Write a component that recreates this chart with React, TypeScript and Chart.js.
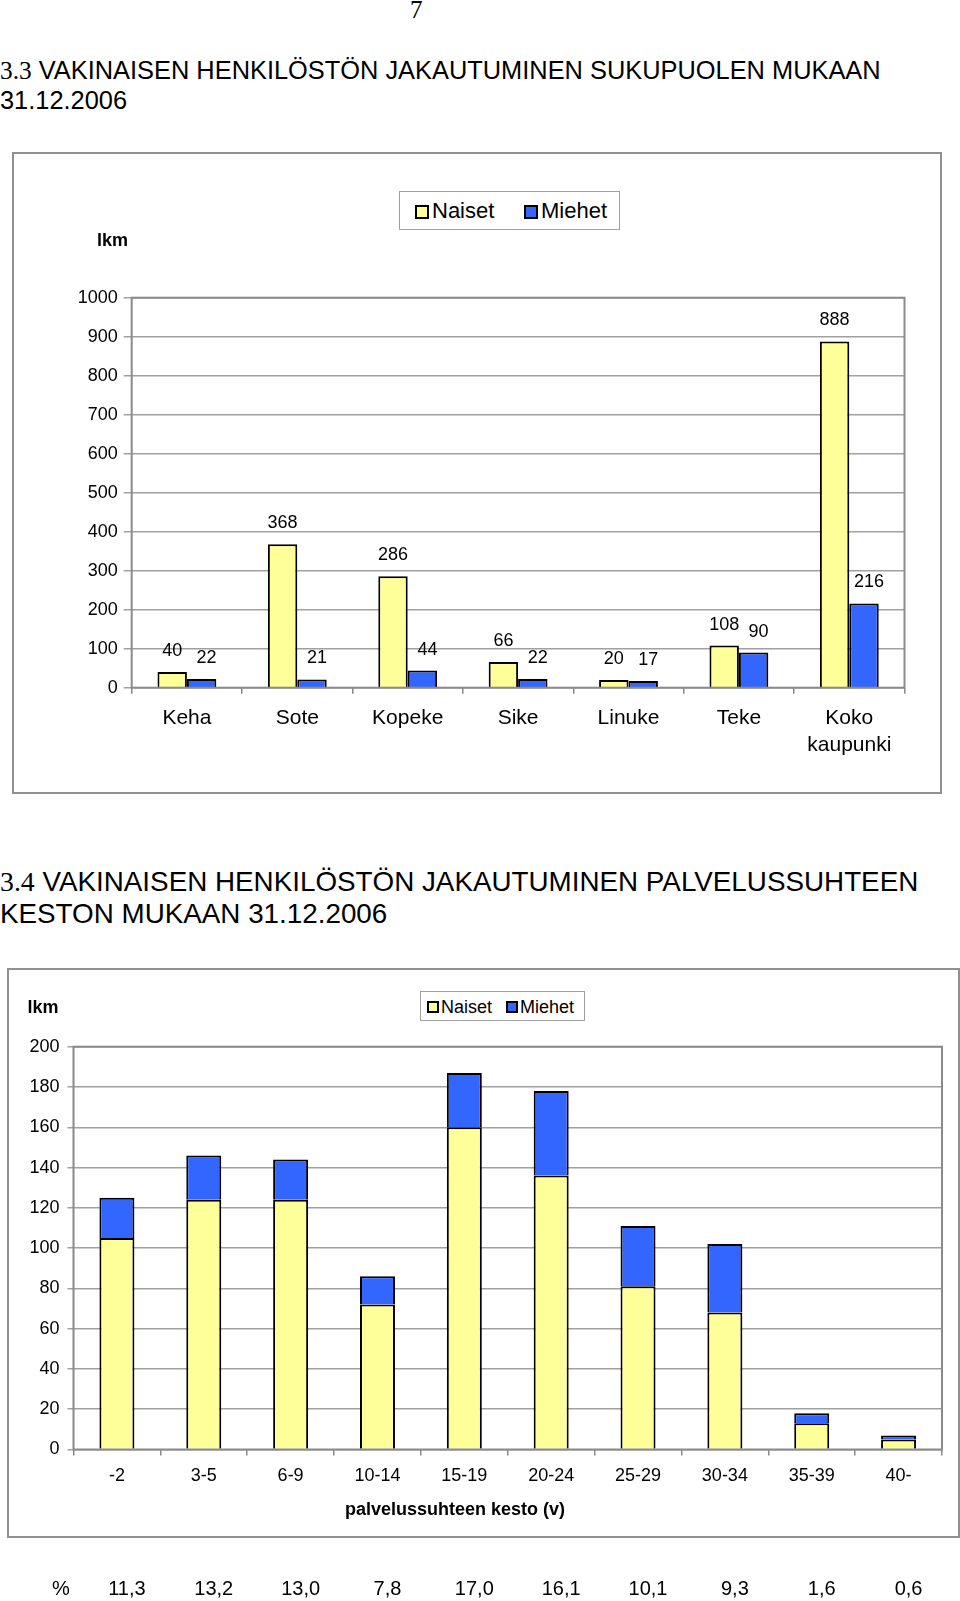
import React, { useEffect, useRef } from 'react';
import { Chart, registerables } from 'chart.js';

Chart.register(...registerables);

const SANS = "'Liberation Sans', Arial, Helvetica, sans-serif";
const SERIF = "'Liberation Serif', 'Times New Roman', serif";
const YELLOW = '#FFFF99';
const BLUE = '#3366FF';

// Chart 3.3 data
const unitLabels = ['Keha', 'Sote', 'Kopeke', 'Sike', 'Linuke', 'Teke', 'Koko kaupunki'];
const unitNaiset = [40, 368, 286, 66, 20, 108, 888];
const unitMiehet = [22, 21, 44, 22, 17, 90, 216];
const unitTicks = [0, 100, 200, 300, 400, 500, 600, 700, 800, 900, 1000];

// Chart 3.4 data
const tenureLabels = ['-2', '3-5', '6-9', '10-14', '15-19', '20-24', '25-29', '30-34', '35-39', '40-'];
const tenureNaiset = [105, 124, 124, 72, 160, 136, 81, 68, 13, 5];
const tenureMiehet = [20, 22, 20, 14, 27, 42, 30, 34, 5, 2];
const tenurePercent = ['11,3', '13,2', '13,0', '7,8', '17,0', '16,1', '10,1', '9,3', '1,6', '0,6'];
const tenureTicks = [0, 20, 40, 60, 80, 100, 120, 140, 160, 180, 200];

const plotBorder = {
  id: 'plotBorder',
  afterDatasetsDraw(chart: any) {
    const { ctx, chartArea } = chart;
    ctx.save();
    ctx.strokeStyle = '#8a8a8a';
    ctx.lineWidth = 2;
    ctx.strokeRect(chartArea.left, chartArea.top, chartArea.right - chartArea.left, chartArea.bottom - chartArea.top);
    ctx.restore();
  },
};

const valueLabels = {
  id: 'valueLabels',
  afterDatasetsDraw(chart: any) {
    const ctx = chart.ctx;
    ctx.save();
    ctx.font = `18px ${SANS}`;
    ctx.fillStyle = '#000';
    ctx.textAlign = 'center';
    ctx.textBaseline = 'middle';
    chart.data.datasets.forEach((ds: any, di: number) => {
      const meta = chart.getDatasetMeta(di);
      meta.data.forEach((el: any, i: number) => {
        const dx = di === 1 ? 5 : 0;
        ctx.fillText(String(ds.data[i]), el.x + dx, el.y - 21);
      });
    });
    ctx.restore();
  },
};

const tenureExtras = {
  id: 'tenureExtras',
  afterDraw(chart: any) {
    const ctx = chart.ctx;
    const xs = chart.scales.x;
    ctx.save();
    ctx.fillStyle = '#000';
    ctx.textBaseline = 'middle';
    ctx.textAlign = 'center';
    ctx.font = `bold 18px ${SANS}`;
    ctx.fillText('palvelussuhteen kesto (v)', 455, 550);
    ctx.font = `20px ${SANS}`;
    ctx.fillText('%', 61, 629);
    tenurePercent.forEach((p, i) => {
      ctx.fillText(p, xs.getPixelForValue(i) + 10, 629);
    });
    ctx.restore();
  },
};

export default function App() {
  const ref1 = useRef<HTMLCanvasElement | null>(null);
  const ref2 = useRef<HTMLCanvasElement | null>(null);

  useEffect(() => {
    Chart.defaults.font.family = SANS;
    Chart.defaults.color = '#000';

    const c1 = new Chart(ref1.current as HTMLCanvasElement, {
      type: 'bar',
      data: {
        labels: unitLabels.map((l) => (l.includes(' ') ? l.split(' ') : l)),
        datasets: [
          { label: 'Naiset', data: unitNaiset, backgroundColor: YELLOW, borderColor: '#000', borderWidth: 2 },
          { label: 'Miehet', data: unitMiehet, backgroundColor: BLUE, borderColor: '#000', borderWidth: 2 },
        ],
      },
      options: {
        animation: false,
        responsive: false,
        devicePixelRatio: 1,
        events: [],
        layout: { padding: { top: 147.7, right: 55.5, left: 0, bottom: 0 } },
        datasets: { bar: { categoryPercentage: 0.533, barPercentage: 1 } },
        plugins: { legend: { display: false }, tooltip: { enabled: false } },
        scales: {
          x: {
            afterFit: (s: any) => { s.height = 112.3; },
            border: { display: false },
            grid: { offset: true, drawOnChartArea: false, drawTicks: true, tickLength: 6, color: '#888', lineWidth: 1.5 },
            ticks: { font: { size: 21, lineHeight: 1.286 }, padding: 11, maxRotation: 0, autoSkip: false, color: '#000' },
          },
          y: {
            min: 0,
            max: 1000,
            afterFit: (s: any) => { s.width = 131.7; },
            afterBuildTicks: (s: any) => { s.ticks = unitTicks.map((v) => ({ value: v })); },
            border: { display: false },
            grid: { color: '#a0a0a0', lineWidth: 1.5, drawTicks: true, tickLength: 8 },
            ticks: { font: { size: 18 }, padding: 6, color: '#000', callback: (v: any) => String(v) },
          },
        },
      },
      plugins: [plotBorder, valueLabels],
    });

    const c2 = new Chart(ref2.current as HTMLCanvasElement, {
      type: 'bar',
      data: {
        labels: tenureLabels,
        datasets: [
          { label: 'Naiset', data: tenureNaiset, backgroundColor: YELLOW, borderColor: '#000', borderWidth: 2 },
          { label: 'Miehet', data: tenureMiehet, backgroundColor: BLUE, borderColor: '#000', borderWidth: 2 },
        ],
      },
      options: {
        animation: false,
        responsive: false,
        devicePixelRatio: 1,
        events: [],
        layout: { padding: { top: 86.7, right: 18, left: 0, bottom: 0 } },
        datasets: { bar: { categoryPercentage: 0.403, barPercentage: 1 } },
        plugins: { legend: { display: false }, tooltip: { enabled: false } },
        scales: {
          x: {
            stacked: true,
            afterFit: (s: any) => { s.height = 151.5; },
            border: { display: false },
            grid: { offset: true, drawOnChartArea: false, drawTicks: true, tickLength: 6, color: '#888', lineWidth: 1.5 },
            ticks: { font: { size: 18 }, padding: 10, maxRotation: 0, autoSkip: false, color: '#000' },
          },
          y: {
            stacked: true,
            min: 0,
            max: 200,
            afterFit: (s: any) => { s.width = 73.5; },
            afterBuildTicks: (s: any) => { s.ticks = tenureTicks.map((v) => ({ value: v })); },
            border: { display: false },
            grid: { color: '#a0a0a0', lineWidth: 1.5, drawTicks: true, tickLength: 6 },
            ticks: { font: { size: 18 }, padding: 8, color: '#000', callback: (v: any) => String(v) },
          },
        },
      },
      plugins: [plotBorder, tenureExtras],
    });

    return () => {
      c1.destroy();
      c2.destroy();
    };
  }, []);

  const abs = (o: any): React.CSSProperties => ({ position: 'absolute', whiteSpace: 'nowrap', ...o });
  const swatch = (left: number, top: number, w: number, h: number, color: string) => (
    <div style={abs({ left, top, width: w, height: h, background: color, border: '2px solid #000', boxSizing: 'border-box' })} />
  );

  return (
    <div style={{ position: 'absolute', left: 0, top: 0, width: 960, height: 1601, overflow: 'hidden', background: '#fff', fontFamily: SANS, color: '#000' }}>
      <div style={abs({ left: 410, top: -4, fontFamily: SERIF, fontSize: 25, lineHeight: '28px' })}>7</div>

      <div style={abs({ left: 0, top: 55, fontSize: 25.4, lineHeight: '30px' })}>
        <span style={{ fontFamily: SERIF }}>3.3</span> VAKINAISEN HENKILÖSTÖN JAKAUTUMINEN SUKUPUOLEN MUKAAN
        <br />
        31.12.2006
      </div>

      <div style={abs({ left: 12, top: 152, width: 930, height: 642, border: '2px solid #909090', boxSizing: 'border-box' })} />
      <canvas ref={ref1} width={960} height={650} style={abs({ left: 0, top: 150, width: 960, height: 650 })} />
      <div style={abs({ left: 97, top: 229, fontSize: 18, fontWeight: 'bold', lineHeight: '22px' })}>lkm</div>
      <div style={abs({ left: 399, top: 191, width: 221, height: 39, border: '1px solid #a0a0a0', boxSizing: 'border-box', background: '#fff' })} />
      {swatch(414.5, 204.5, 14, 14, YELLOW)}
      <div style={abs({ left: 432, top: 199, fontSize: 22, lineHeight: '24px' })}>Naiset</div>
      {swatch(523.5, 204.5, 14, 14, BLUE)}
      <div style={abs({ left: 541, top: 199, fontSize: 22, lineHeight: '24px' })}>Miehet</div>

      <div style={abs({ left: 0, top: 865.5, fontSize: 27.8, lineHeight: '32.5px' })}>
        <span style={{ fontFamily: SERIF }}>3.4</span> VAKINAISEN HENKILÖSTÖN JAKAUTUMINEN PALVELUSSUHTEEN
        <br />
        KESTON MUKAAN 31.12.2006
      </div>

      <div style={abs({ left: 7, top: 968, width: 953, height: 570, border: '2px solid #909090', boxSizing: 'border-box' })} />
      <canvas ref={ref2} width={960} height={641} style={abs({ left: 0, top: 960, width: 960, height: 641 })} />
      <div style={abs({ left: 27.5, top: 996, fontSize: 18, fontWeight: 'bold', lineHeight: '22px' })}>lkm</div>
      <div style={abs({ left: 419.5, top: 990.5, width: 165, height: 30, border: '1px solid #a0a0a0', boxSizing: 'border-box', background: '#fff' })} />
      {swatch(426.5, 1000.5, 12, 12, YELLOW)}
      <div style={abs({ left: 441, top: 995.5, fontSize: 18, lineHeight: '22px' })}>Naiset</div>
      {swatch(505.5, 1000.5, 12, 12, BLUE)}
      <div style={abs({ left: 520, top: 995.5, fontSize: 18, lineHeight: '22px' })}>Miehet</div>
    </div>
  );
}
